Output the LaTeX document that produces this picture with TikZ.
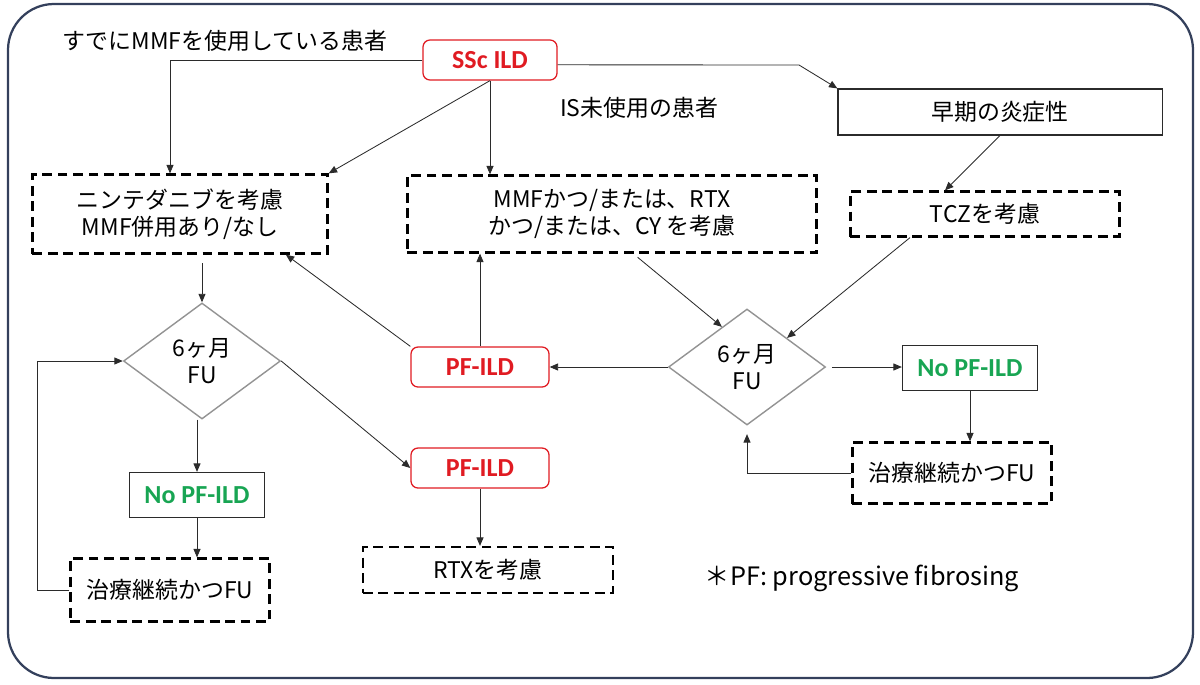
\documentclass[tikz,border=0pt]{standalone}
\usepackage{fontspec}
\setmainfont{Noto Sans CJK JP}
\newfontfamily\calib{Carlito}
\usepackage{tikz}
\usetikzlibrary{shapes.geometric,arrows.meta}
\definecolor{framec}{HTML}{34405C}
\definecolor{pfred}{HTML}{E01B22}
\definecolor{nogreen}{HTML}{18A553}
\definecolor{linec}{HTML}{2B2B2B}

\begin{document}
\begin{tikzpicture}[x=0.025cm,y=-0.025cm,
        font=\fontsize{16.3}{19.5}\selectfont,
        arr/.style={-{Triangle[length=6pt,width=5pt]},linec,line width=0.6pt},
        pfbox/.style={draw=pfred,rounded corners=5pt,line width=0.9pt,text=pfred,font=\calib\bfseries\fontsize{18.5}{20}\selectfont,minimum width=3.45cm,minimum height=1cm,inner sep=0pt},
        nobox/.style={draw=linec,line width=0.9pt,text=nogreen,font=\calib\bfseries\fontsize{18.5}{20}\selectfont,minimum width=3.375cm,minimum height=1.125cm,inner sep=0pt},
        fu/.style={draw=gray!85,line width=1pt,diamond,minimum width=3.925cm,minimum height=2.9cm,inner sep=0pt,align=center},
        dbox/.style={draw,line width=1.6pt,dash pattern=on 7pt off 4pt,align=center,inner sep=0pt}]
        \useasboundingbox (0,0) rectangle (1200,684);
        \draw[framec,line width=1.6pt,rounded corners=1.15cm] (8,4) rectangle (1193,678);

        \node (lblmmf) at (225,41) {すでにMMFを使用している患者};
        \node[pfbox,minimum width=3.35cm] (ssc) at (490,60) {SSc ILD};
        \node (lblis) at (639,108) {IS未使用の患者};
        \node[draw=linec,line width=0.8pt,minimum width=8.1cm,minimum height=1.15cm] (early) at (1000,112) {早期の炎症性};
        \node[dbox,minimum width=7.375cm,minimum height=1.975cm] (nin) at (180,214) {ニンテダニブを考慮\\MMF併用あり/なし};
        \node[dbox,minimum width=10.225cm,minimum height=1.925cm] (mmf) at (612,214) {MMFかつ/または、RTX\\かつ/または、CY を考慮};
        \node[dbox,minimum width=6.725cm,minimum height=1.125cm] (tcz) at (985,214) {TCZを考慮};
        \node[fu] (fuL) at (202,361) {6ヶ月\\FU};
        \node[fu] (fuR) at (747,367) {6ヶ月\\FU};
        \node[pfbox] (pfmid) at (480,367) {PF-ILD};
        \node[nobox] (nopfR) at (970,368) {No PF-ILD};
        \node[pfbox] (pflow) at (480,468) {PF-ILD};
        \node[nobox] (nopfL) at (197,495) {No PF-ILD};
        \node[dbox,minimum width=4.975cm,minimum height=1.575cm] (contL) at (170,590) {治療継続かつFU};
        \node[dbox,minimum width=6.25cm,minimum height=1.15cm] (rtx) at (488,570) {RTXを考慮};
        \node[dbox,minimum width=4.975cm,minimum height=1.525cm] (contR) at (952,473) {治療継続かつFU};
        \node[font=\fontsize{18}{20}\selectfont] (note) at (862,578) {＊PF: progressive fibrosing};

        \draw[arr] (ssc.west) -| ([xshift=-0.25cm]nin.north);
        \draw[arr] (ssc.south) -- (nin.north east);
        \draw[arr] (ssc.south) -- (ssc.south |- mmf.north);
        \draw[arr] ([yshift=-0.12cm]ssc.east) -- (799,65) -- (early.north west);
        \draw[arr] (early.south) -- ([xshift=-1cm]tcz.north);
        \draw[arr,shorten <=6pt] (fuL.north |- nin.south) -- (fuL.north);
        \draw[arr] (pfmid.north) -- (pfmid.north |- mmf.south);
        \draw[arr] (pfmid.north west) -- ([xshift=-1.07cm]nin.south east);
        \draw[arr,shorten <=4pt] ([xshift=0.53cm]mmf.south) -- (fuR.122);
        \draw[arr] ([xshift=-1.875cm]tcz.south) -- (fuR.36);
        \draw[arr] (fuR.west) -- (pfmid.east);
        \draw[arr,shorten <=4pt] (fuR.east) -- (fuR.east -| nopfR.west);
        \draw[arr] (nopfR.south) -- (nopfR.south |- contR.north);
        \draw[arr,shorten >=6pt] (contR.west) -| (fuR.south);
        \draw[arr] (nopfL.north |- fuL.south) -- (nopfL.north);
        \draw[arr] (nopfL.south) -- (nopfL.south |- contL.north);
        \draw[arr] (contL.west) -- ++(-32,0) |- (fuL.west);
        \draw[arr] (fuL.east) -- (pflow.west);
        \draw[arr] (pflow.south) -- (pflow.south |- rtx.north);
\end{tikzpicture}
\end{document}
